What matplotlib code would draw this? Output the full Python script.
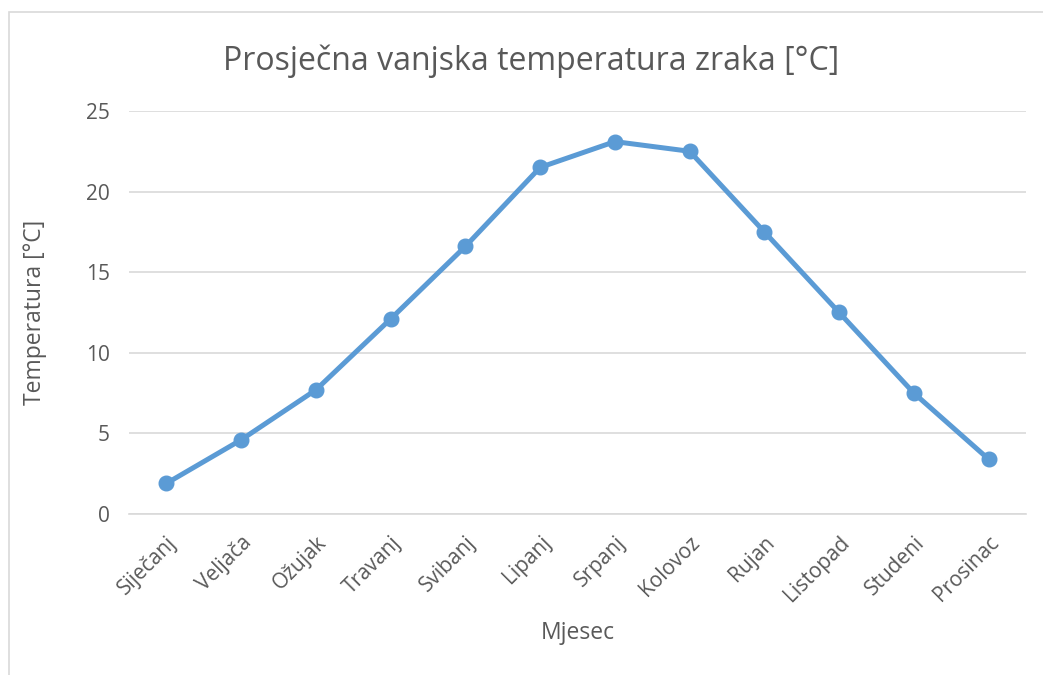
import matplotlib.pyplot as plt
from matplotlib.patches import Rectangle

# Podaci: prosječna mjesečna temperatura
mjeseci = ["Siječanj", "Veljača", "Ožujak", "Travanj", "Svibanj", "Lipanj",
           "Srpanj", "Kolovoz", "Rujan", "Listopad", "Studeni", "Prosinac"]
temperature = [1.9, 4.6, 7.7, 12.1, 16.6, 21.5, 23.1, 22.5, 17.5, 12.5, 7.5, 3.4]
y_ticks = [0, 5, 10, 15, 20, 25]

plt.rcParams['font.family'] = ['Open Sans', 'DejaVu Sans']
tekst = '#595959'

fig = plt.figure(figsize=(10.43, 6.75), dpi=100)
ax = fig.add_axes([0.1237, 0.2385, 0.86, 0.5971])

# okvir grafikona
fig.patches.append(Rectangle((9/1043, -0.1), 1.2, 1 - 12/675 + 0.1,
                             transform=fig.transFigure, fill=False,
                             edgecolor='#D9D9D9', linewidth=1.2))

x = list(range(len(mjeseci)))
ax.plot(x, temperature, color='#5B9BD5', linewidth=3.6, marker='o',
        markersize=10.5, solid_capstyle='round', zorder=3)

ax.set_xlim(-0.5, len(mjeseci) - 0.5)
ax.set_ylim(0, 25)
ax.set_yticks(y_ticks)
ax.set_xticks(x)
ax.set_xticklabels(mjeseci, rotation=45, ha='right', va='top',
                   rotation_mode='anchor')
ax.tick_params(axis='both', length=0, labelsize=15, colors=tekst)
ax.tick_params(axis='x', pad=13)
ax.tick_params(axis='y', pad=14)

ax.grid(axis='y', color='#D9D9D9', linewidth=1.2)
ax.set_axisbelow(True)
for s in ['top', 'right', 'left']:
    ax.spines[s].set_visible(False)
ax.spines['bottom'].set_color('#D9D9D9')
ax.spines['bottom'].set_linewidth(1.2)

fig.text(531/1043, 1 - 61/675, "Prosječna vanjska temperatura zraka [°C]",
         fontsize=23, color=tekst, ha='center', va='center')

ax.set_xlabel("Mjesec", fontsize=16.5, color=tekst, va='center')
ax.xaxis.set_label_coords(0.5, (514 - 633) / 403)
ax.set_ylabel("Temperatura [°C]", fontsize=16.5, color=tekst, va='center')
ax.yaxis.set_label_coords((35 - 129) / 897, 0.5)

fig.savefig("out.png", dpi=100)
